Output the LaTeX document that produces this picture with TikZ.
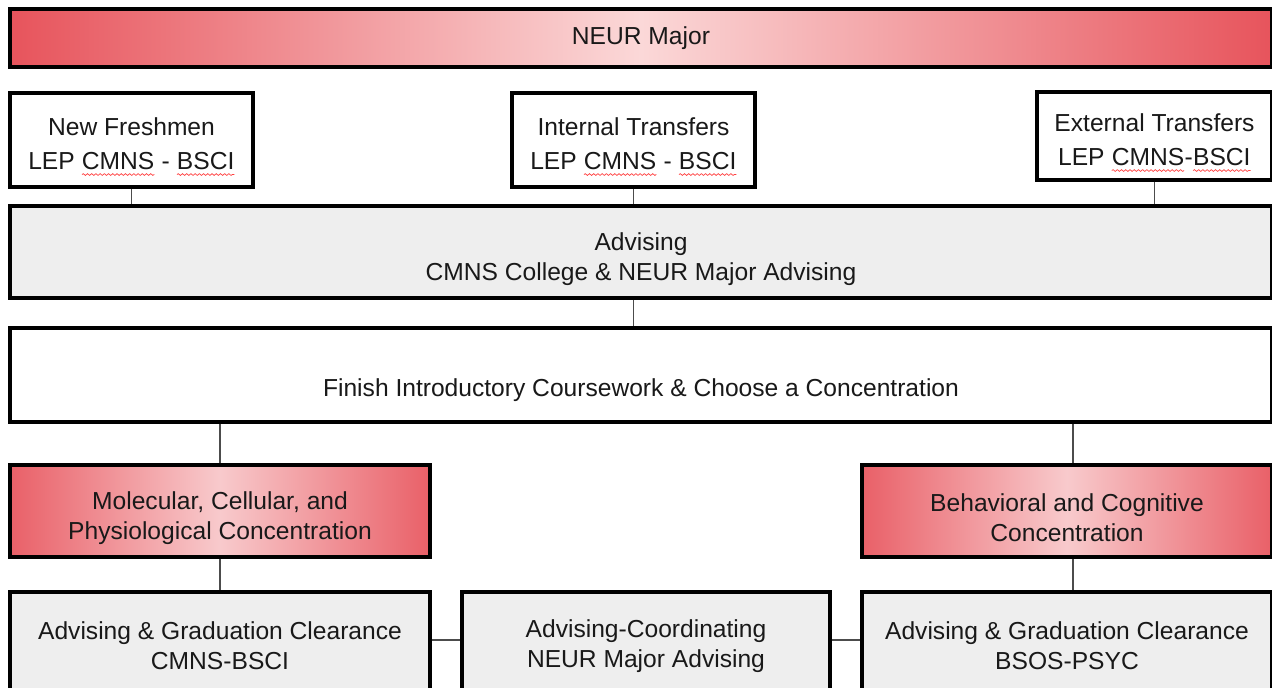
\documentclass[tikz,border=0pt]{standalone}
\usepackage{fontspec}
\setmainfont{Liberation Sans}
\usetikzlibrary{positioning,decorations.pathmorphing}
\definecolor{neurred}{RGB}{231,84,92}
\definecolor{neurpink}{RGB}{251,216,216}
\definecolor{concred}{RGB}{233,96,104}
\definecolor{concpink}{RGB}{248,202,204}
\definecolor{boxgray}{RGB}{238,238,238}
% red spell-check squiggle under a word
\newcommand{\squig}[1]{\tikz[baseline=(sq.base)]{%
  \node[draw=none, fill=none, inner sep=0pt, outer sep=0pt,
        minimum width=0pt, minimum height=0pt] (sq) {#1};
  \draw[red!75, line width=0.4pt, decorate,
        decoration={snake, amplitude=0.5pt, segment length=2.4pt}]
    ([yshift=-3pt]sq.base west) -- ([yshift=-3pt]sq.base east);}}
% extra room above the first line, pushes the text down a little
\newcommand{\padtop}[1][18pt]{\rule{0pt}{#1}}

\begin{document}
\begin{tikzpicture}[
  box/.style={draw, line width=2pt, align=center, inner sep=0pt,
              font=\fontsize{14pt}{17pt}\selectfont, text=black!90},
  whitebox/.style={box, fill=white},
  graybox/.style={box, fill=boxgray},
  redbox/.style={box, left color=neurred, right color=neurred,
                 middle color=neurpink},
  concbox/.style={box, left color=concred, right color=concred,
                  middle color=concpink},
  link/.style={gray!60!black, line width=1pt}
]
  \clip (0,0) rectangle (25.44,-13.74);

  % Top bar
  \node[redbox, minimum width=25.24cm, minimum height=1.16cm] (major)
    at (12.82,-0.76) {NEUR Major};

  % Entry points
  \node[whitebox, minimum width=4.86cm, minimum height=1.88cm] (fresh)
    at (2.63,-2.80) {\padtop New Freshmen\\[2pt]LEP \squig{CMNS} - \squig{BSCI}};
  \node[whitebox, minimum width=4.86cm, minimum height=1.88cm] (intern)
    at (12.67,-2.80) {\padtop Internal Transfers\\[2pt]LEP \squig{CMNS} - \squig{BSCI}};
  \node[whitebox, minimum width=4.70cm, minimum height=1.76cm] (extern)
    at (23.09,-2.72) {\padtop External Transfers\\[2pt]LEP \squig{CMNS}-\squig{BSCI}};

  % Wide stages
  \node[graybox, minimum width=25.24cm, minimum height=1.84cm] (advise)
    at (12.82,-5.04) {\padtop Advising\\CMNS College \& NEUR Major Advising};
  \node[whitebox, minimum width=25.24cm, minimum height=1.88cm] (finish)
    at (12.82,-7.50)
    {\padtop[27pt]Finish Introductory Coursework \& Choose a Concentration};

  % Concentrations
  \node[concbox, minimum width=8.40cm, minimum height=1.84cm] (molec)
    at (4.40,-10.22) {\padtop Molecular, Cellular, and\\Physiological Concentration};
  \node[concbox, minimum width=8.20cm, minimum height=1.84cm] (behav)
    at (21.34,-10.22) {\padtop Behavioral and Cognitive\\Concentration};

  % Clearance row
  \node[graybox, minimum width=8.40cm, minimum height=2.16cm] (gradl)
    at (4.40,-12.92) {Advising \& Graduation Clearance\\CMNS-BSCI};
  \node[graybox, minimum width=7.36cm, minimum height=2.16cm] (coord)
    at (12.92,-12.92) {Advising-Coordinating\\NEUR Major Advising};
  \node[graybox, minimum width=8.20cm, minimum height=2.16cm] (gradr)
    at (21.34,-12.92) {Advising \& Graduation Clearance\\BSOS-PSYC};

  % Connectors
  \draw[link] (fresh.south)  -- (fresh.south |- advise.north);
  \draw[link] (intern.south) -- (intern.south |- advise.north);
  \draw[link] (extern.south) -- (extern.south |- advise.north);
  \draw[link] (intern.south |- advise.south) -- (intern.south |- finish.north);
  \draw[link] (molec.north |- finish.south) -- (molec.north);
  \draw[link] ([xshift=1.2mm]behav.north |- finish.south) -- ([xshift=1.2mm]behav.north);
  \draw[link] (molec.south) -- (gradl.north);
  \draw[link] ([xshift=1.2mm]behav.south) -- ([xshift=1.2mm]behav.south |- gradr.north);
  \draw[link] ([yshift=1.2mm]gradl.east) -- ([yshift=1.2mm]coord.west);
  \draw[link] ([yshift=1.2mm]coord.east) -- ([yshift=1.2mm]gradr.west);
\end{tikzpicture}
\end{document}
